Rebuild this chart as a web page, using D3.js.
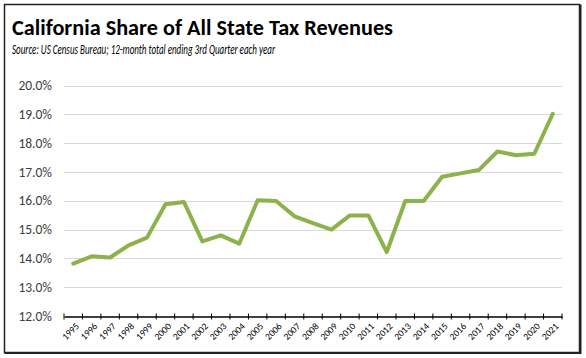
<!DOCTYPE html>
<html>
<head>
<meta charset="utf-8">
<script src="https://cdn.jsdelivr.net/npm/d3@7"></script>
<style>
  body { margin: 0; background: #fff; }
  svg { display: block; }
</style>
</head>
<body>
<svg id="chart" width="586" height="358"></svg>
<script>
// values
const years = ["1995","1996","1997","1998","1999","2000","2001","2002","2003","2004","2005","2006","2007","2008",
  "2009","2010","2011","2012","2013","2014","2015","2016","2017","2018","2019","2020","2021"];
const share = [13.82, 14.07, 14.03, 14.45, 14.72, 15.88, 15.96, 14.59, 14.80, 14.51, 16.02, 15.99, 15.46, 15.22,
  15.00, 15.49, 15.49, 14.22, 15.99, 15.99, 16.83, 16.95, 17.07, 17.71, 17.58, 17.63, 19.02];
const yTicks = [12, 13, 14, 15, 16, 17, 18, 19, 20];

const titleText = "California Share of All State Tax Revenues";
const subText = "Source:  US Census Bureau; 12-month total ending 3rd Quarter each year";

const svg = d3.select("#chart");
const font = "Calibri, Carlito, 'Open Sans', sans-serif";

// outer frame
svg.append("rect")
  .attr("x", 4.5).attr("y", 4.5)
  .attr("width", 575).attr("height", 348)
  .attr("fill", "#fff")
  .attr("stroke", "#222")
  .attr("stroke-width", 1.5);
// heavier right/bottom edge
svg.append("path")
  .attr("d", "M580.5,4.5 V353 H4.5")
  .attr("fill", "none")
  .attr("stroke", "#222")
  .attr("stroke-width", 2);

svg.append("text")
  .attr("x", 12).attr("y", 35)
  .attr("font-family", font)
  .attr("font-weight", "bold")
  .attr("font-size", 23)
  .attr("fill", "#000")
  .attr("textLength", 381)
  .attr("lengthAdjust", "spacingAndGlyphs")
  .text(titleText);

svg.append("text")
  .attr("x", 12).attr("y", 54)
  .attr("font-family", font)
  .attr("font-style", "italic")
  .attr("font-size", 14.5)
  .attr("fill", "#000")
  .attr("textLength", 263)
  .attr("lengthAdjust", "spacingAndGlyphs")
  .text(subText);

const x = d3.scaleBand().domain(years).range([64, 562]);
const y = d3.scaleLinear().domain([12, 20]).range([316, 85.5]);

// gridlines
svg.append("g")
  .selectAll("line")
  .data(yTicks.slice(1))
  .join("line")
  .attr("x1", 64).attr("x2", 562)
  .attr("y1", d => Math.round(y(d)) + 0.5)
  .attr("y2", d => Math.round(y(d)) + 0.5)
  .attr("stroke", "#d9d9d9")
  .attr("stroke-width", 1);

// y labels
svg.append("g")
  .selectAll("text")
  .data(yTicks)
  .join("text")
  .attr("x", 52)
  .attr("y", d => y(d))
  .attr("dy", "0.35em")
  .attr("text-anchor", "end")
  .attr("font-family", font)
  .attr("font-size", 13.5)
  .attr("fill", "#404040")
  .text(d => d.toFixed(1) + "%");

// x axis
const xAxis = d3.axisBottom(x).tickSize(0).tickFormat(d => d);
const gx = svg.append("g")
  .attr("transform", `translate(0,${Math.round(y(12)) + 0.5})`)
  .call(xAxis);
gx.select(".domain").attr("stroke", "#000").attr("stroke-width", 1.5);
// tick marks at band edges
gx.selectAll(".edge")
  .data(years.concat(["end"]))
  .join("line")
  .attr("class", "edge")
  .attr("x1", (d, i) => 64 + i * x.step())
  .attr("x2", (d, i) => 64 + i * x.step())
  .attr("y1", -3).attr("y2", 3)
  .attr("stroke", "#000")
  .attr("stroke-width", 1);
gx.selectAll(".tick text")
  .attr("font-family", font)
  .attr("font-size", 9.5)
  .attr("fill", "#000")
  .attr("text-anchor", "end")
  .attr("transform", "translate(4,8) rotate(-45)")
  .attr("dy", "0.35em")
  .attr("y", 0);

// line
const line = d3.line()
  .x((d, i) => x(years[i]) + x.bandwidth() / 2)
  .y(d => y(d));

svg.append("path")
  .datum(share)
  .attr("d", line)
  .attr("fill", "none")
  .attr("stroke", "#8db24c")
  .attr("stroke-width", 4)
  .attr("stroke-linejoin", "round")
  .attr("stroke-linecap", "round");
</script>
</body>
</html>
